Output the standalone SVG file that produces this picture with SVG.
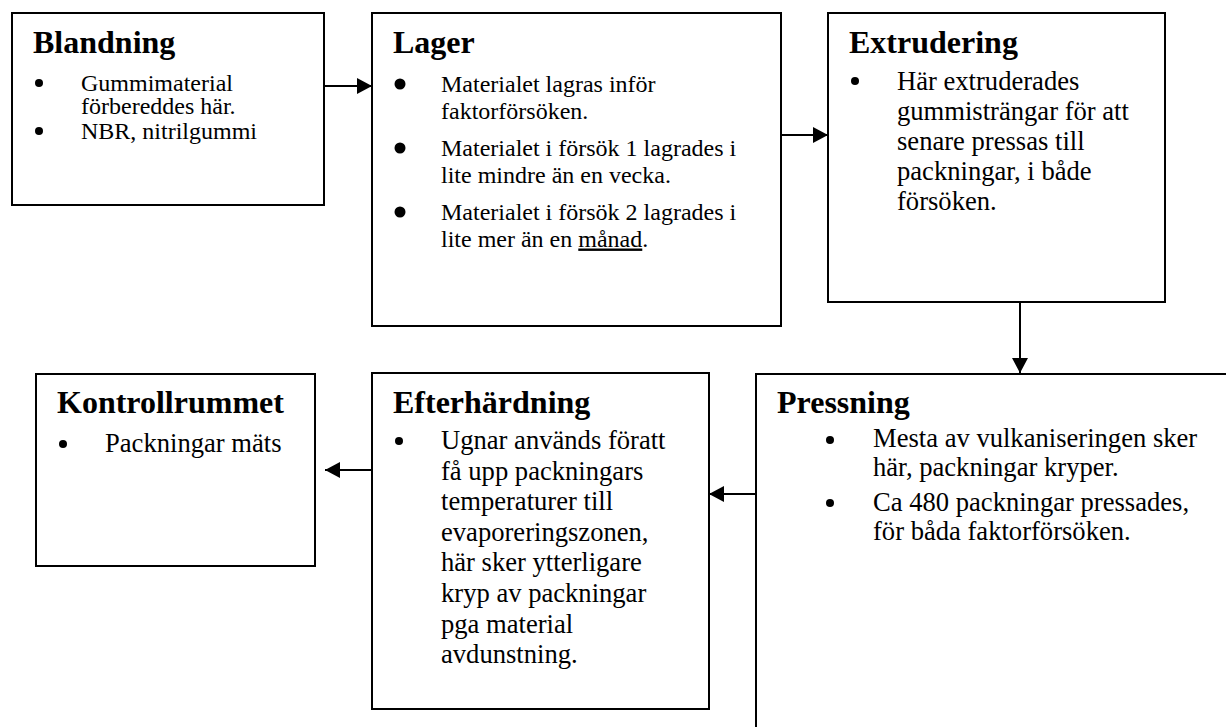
<svg xmlns="http://www.w3.org/2000/svg" width="1226" height="727" viewBox="0 0 1226 727">
<style>
.box{fill:#fff;stroke:#000;stroke-width:2}
.title{font-family:"Liberation Serif","Times New Roman",serif;font-weight:bold;font-size:32px;fill:#000}
.b24{font-family:"Liberation Serif","Times New Roman",serif;font-size:24px;fill:#000}
.b27{font-family:"Liberation Serif","Times New Roman",serif;font-size:26.6px;fill:#000}
.conn{stroke:#000;stroke-width:2;fill:none;marker-end:url(#ah)}
.dot{fill:#000}
</style>
<defs>
<marker id="ah" viewBox="0 0 10 10" refX="10" refY="5" markerUnits="userSpaceOnUse" markerWidth="15" markerHeight="16" preserveAspectRatio="none" orient="auto">
<path d="M0,0 L10,5 L0,10 z" fill="#000"/>
</marker>
</defs>
<rect width="1226" height="727" fill="#fff"/>

<g id="connectors">
<line class="conn" x1="324" y1="86" x2="372" y2="86"/>
<line class="conn" x1="781" y1="135" x2="828" y2="135"/>
<line class="conn" x1="1020" y1="302" x2="1020" y2="373"/>
<line class="conn" x1="756" y1="494" x2="709" y2="494"/>
<line class="conn" x1="372" y1="470" x2="325" y2="470"/>
</g>

<g id="blandning">
<rect class="box" x="12" y="13" width="312" height="192"/>
<text class="title" x="33" y="53">Blandning</text>
<circle class="dot" cx="39" cy="83" r="4"/>
<text class="b24" x="81" y="91">Gummimaterial<tspan x="81" dy="22.5">förbereddes här.</tspan></text>
<circle class="dot" cx="39" cy="131" r="4"/>
<text class="b24" x="81" y="139">NBR, nitrilgummi</text>
</g>

<g id="lager">
<rect class="box" x="372" y="13" width="409" height="313"/>
<text class="title" x="393" y="53">Lager</text>
<circle class="dot" cx="400" cy="84" r="5.5"/>
<text class="b24" x="441" y="92">Materialet lagras inför<tspan x="441" dy="26.5">faktorförsöken.</tspan></text>
<circle class="dot" cx="400" cy="148" r="5.5"/>
<text class="b24" x="441" y="156">Materialet i försök 1 lagrades i<tspan x="441" dy="26.5">lite mindre än en vecka.</tspan></text>
<circle class="dot" cx="400" cy="212" r="5.5"/>
<text class="b24" x="441" y="220">Materialet i försök 2 lagrades i<tspan x="441" dy="26.5">lite mer än en <tspan text-decoration="underline">månad</tspan>.</tspan></text>
</g>

<g id="extrudering">
<rect class="box" x="828" y="13" width="337" height="289"/>
<text class="title" x="849" y="53">Extrudering</text>
<circle class="dot" cx="855" cy="81" r="4"/>
<text class="b27" x="897" y="90">Här extruderades<tspan x="897" dy="30">gummisträngar för att</tspan><tspan x="897" dy="30">senare pressas till</tspan><tspan x="897" dy="30">packningar, i både</tspan><tspan x="897" dy="30">försöken.</tspan></text>
</g>

<g id="pressning">
<rect class="box" x="756" y="374" width="500" height="400"/>
<text class="title" x="777" y="413">Pressning</text>
<circle class="dot" cx="830" cy="440" r="4"/>
<text class="b27" x="873" y="447">Mesta av vulkaniseringen sker<tspan x="873" dy="29">här, packningar kryper.</tspan></text>
<circle class="dot" cx="830" cy="503" r="4"/>
<text class="b27" x="873" y="511">Ca 480 packningar pressades,<tspan x="873" dy="29">för båda faktorförsöken.</tspan></text>
</g>

<g id="efterhardning">
<rect class="box" x="372" y="373" width="337" height="336"/>
<text class="title" x="393" y="413">Efterhärdning</text>
<circle class="dot" cx="399" cy="441" r="4"/>
<text class="b27" x="441" y="449">Ugnar används föratt<tspan x="441" dy="30.6">få upp packningars</tspan><tspan x="441" dy="30.6">temperaturer till</tspan><tspan x="441" dy="30.6">evaporeringszonen,</tspan><tspan x="441" dy="30.6">här sker ytterligare</tspan><tspan x="441" dy="30.6">kryp av packningar</tspan><tspan x="441" dy="30.6">pga material</tspan><tspan x="441" dy="30.6">avdunstning.</tspan></text>
</g>

<g id="kontrollrummet">
<rect class="box" x="36" y="374" width="279" height="192"/>
<text class="title" x="57" y="413">Kontrollrummet</text>
<circle class="dot" cx="63" cy="444" r="4"/>
<text class="b27" x="105" y="452">Packningar mäts</text>
</g>
</svg>
